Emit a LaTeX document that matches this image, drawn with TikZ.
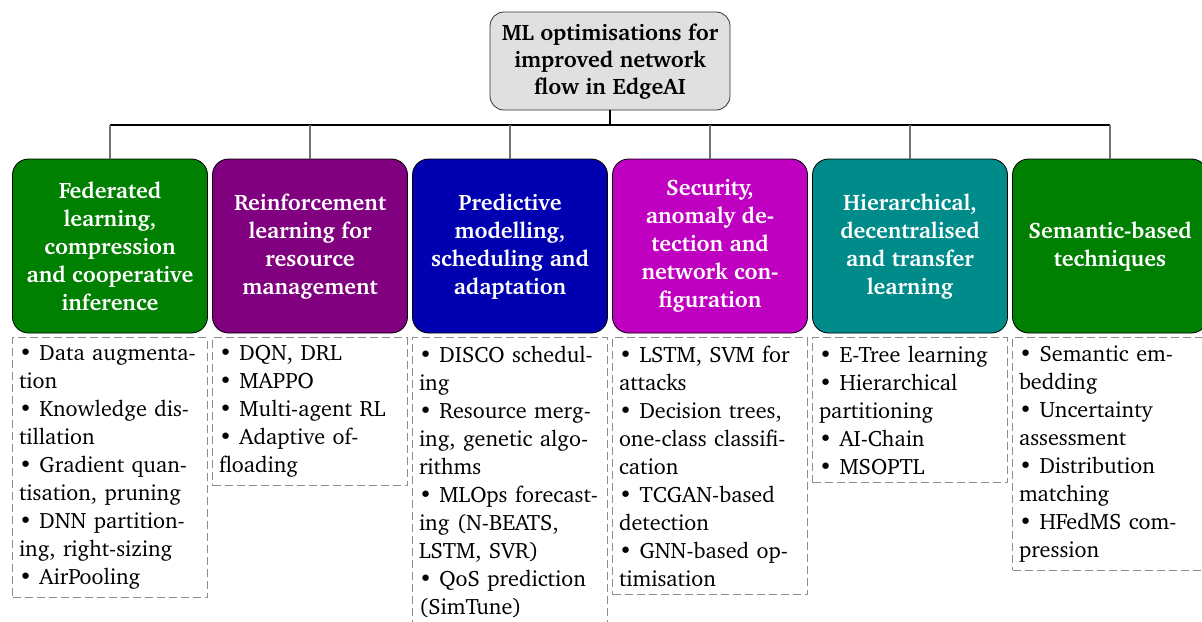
\documentclass[tikz,border=0pt]{standalone}
\usepackage[T1]{fontenc}
\usepackage{charter}
\usepackage{xcolor}
\usetikzlibrary{positioning}
\definecolor{fedgreen}{RGB}{0,128,0}
\definecolor{rlpurple}{RGB}{128,0,128}
\definecolor{predblue}{RGB}{0,0,176}
\definecolor{secmagenta}{RGB}{192,0,192}
\definecolor{hierteal}{RGB}{0,139,139}
\definecolor{semgreen}{RGB}{0,128,0}

\begin{document}
\begin{tikzpicture}[x=0.5pt, y=-0.5pt,
  rootbox/.style={draw=black!80, fill=black!12, thin, rounded corners=7pt,
    minimum width=120pt, minimum height=49pt, align=center,
    font=\bfseries\fontsize{11.2}{13.5}\selectfont},
  catbox/.style={draw=black, thin, rounded corners=8pt, minimum width=97.5pt,
    minimum height=87pt, align=center, text=white,
    font=\bfseries\fontsize{11.2}{14}\selectfont},
  listbox/.style={draw=black!45, dash pattern=on 4pt off 2pt, text width=91pt,
    inner xsep=3.25pt, inner ysep=4pt, align=left,
    font=\fontsize{11.1}{14}\selectfont},
  bar/.style={draw=black, line width=1pt},
  stem/.style={draw=black!55, line width=0.6pt}]
\useasboundingbox (0,0) rectangle (1202,621);
% Root
\node[rootbox] (root) at (610,61) {ML optimisations for\\improved network\\flow in EdgeAI};
% Categories
\foreach \i/\n/\c/\t in {
    0/fed/fedgreen/{Federated\\learning,\\compression\\and cooperative\\inference},
    1/rl/rlpurple/{Reinforcement\\learning for\\resource\\management},
    2/pred/predblue/{Predictive\\modelling,\\scheduling and\\adaptation},
    3/sec/secmagenta/{Security,\\anomaly de-\\tection and\\network con-\\figuration},
    4/hier/hierteal/{Hierarchical,\\decentralised\\and transfer\\learning},
    5/sem/semgreen/{Semantic-based\\techniques}} {
  \node[catbox, fill=\c] (\n) at (110+200*\i, 246) {\t};
}
% Tree connectors
\coordinate (barL) at (110,125);
\coordinate (barR) at (1110,125);
\coordinate (barM) at (root.south |- barL);
\draw[bar] (barL) -- (barR);
\draw[bar] (root.south) -- (barM);
\foreach \n in {fed,rl,pred,sec,hier,sem} {
  \draw[stem] (\n.north |- barL) -- (\n.north);
}
% Technique lists
\node[listbox, below=2pt of fed] (fedlist) {\textbullet\ Data augmenta-\\tion\\\textbullet\ Knowledge dis-\\tillation\\\textbullet\ Gradient quan-\\tisation, pruning\\\textbullet\ DNN partition-\\ing, right-sizing\\\textbullet\ AirPooling};
\node[listbox, below=2pt of rl] (rllist) {\textbullet\ DQN, DRL\\\textbullet\ MAPPO\\\textbullet\ Multi-agent RL\\\textbullet\ Adaptive of-\\floading};
\node[listbox, below=2pt of pred] (predlist) {\textbullet\ DISCO schedul-\\ing\\\textbullet\ Resource merg-\\ing, genetic algo-\\rithms\\\textbullet\ MLOps forecast-\\ing (N-BEATS,\\LSTM, SVR)\\\textbullet\ QoS prediction\\(SimTune)};
\node[listbox, below=2pt of sec] (seclist) {\textbullet\ LSTM, SVM for\\attacks\\\textbullet\ Decision trees,\\one-class classifi-\\cation\\\textbullet\ TCGAN-based\\detection\\\textbullet\ GNN-based op-\\timisation};
\node[listbox, below=2pt of hier] (hierlist) {\textbullet\ E-Tree learning\\\textbullet\ Hierarchical\\partitioning\\\textbullet\ AI-Chain\\\textbullet\ MSOPTL};
\node[listbox, below=2pt of sem] (semlist) {\textbullet\ Semantic em-\\bedding\\\textbullet\ Uncertainty\\assessment\\\textbullet\ Distribution\\matching\\\textbullet\ HFedMS com-\\pression};
\end{tikzpicture}
\end{document}
